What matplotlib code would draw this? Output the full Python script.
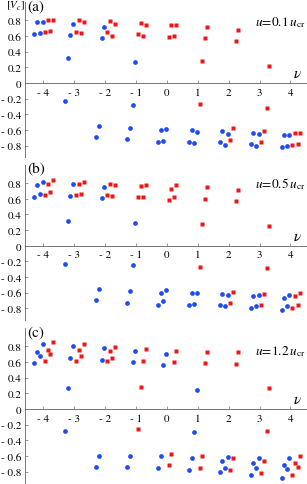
import numpy as np
import matplotlib
matplotlib.use("Agg")
import matplotlib.pyplot as plt

plt.rcParams['font.family'] = ['STIXGeneral', 'DejaVu Serif']
plt.rcParams['mathtext.fontset'] = 'stix'

# nu positions of the points (same in every panel)
nu_blue = [-4.29, -4.20, -4.11, -4.02, -3.28, -3.19, -3.12, -3.03,
           -2.29, -2.20, -2.11, -2.03, -1.28, -1.19, -1.11, -1.02,
           -0.28, -0.20, -0.11, -0.03, 0.72, 0.80, 0.89, 0.97,
           1.72, 1.80, 1.89, 1.97, 2.72, 2.80, 2.89, 2.97,
           3.72, 3.80, 3.89, 3.97]
nu_red = [-3.94, -3.85, -3.77, -3.69, -2.94, -2.85, -2.77, -2.69,
          -1.94, -1.85, -1.77, -1.69, -0.94, -0.85, -0.77, -0.69,
          0.06, 0.14, 0.23, 0.31, 1.06, 1.14, 1.23, 1.31,
          2.06, 2.14, 2.23, 2.31, 3.06, 3.14, 3.23, 3.31,
          4.06, 4.14, 4.23, 4.31]

# panel (a): u = 0.1 u_cr
blue_a = [0.63, 0.774, 0.638, 0.783, -0.226, 0.315, 0.609, 0.753,
          -0.685, -0.545, 0.579, 0.719, -0.719, -0.574, -0.281, 0.264,
          -0.749, -0.60, -0.74, -0.591, -0.749, -0.604, -0.77, -0.626,
          -0.749, -0.609, -0.796, -0.651, -0.783, -0.638, -0.80, -0.655,
          -0.813, -0.668, -0.804, -0.66]
red_a = [0.655, 0.80, 0.664, 0.809, 0.651, 0.80, 0.638, 0.779,
         0.647, 0.796, 0.604, 0.749, 0.621, 0.766, 0.60, 0.745,
         0.591, 0.736, 0.60, 0.745, -0.268, 0.277, 0.574, 0.715,
         -0.723, -0.579, 0.540, 0.681, -0.757, -0.617, -0.319, 0.221,
         -0.787, -0.643, -0.779, -0.634]

# panel (b): u = 0.5 u_cr
blue_b = [0.626, 0.77, 0.664, 0.813, -0.234, 0.311, 0.638, 0.783,
          -0.689, -0.549, 0.609, 0.753, -0.728, -0.579, -0.251, 0.294,
          -0.753, -0.609, -0.711, -0.566, -0.753, -0.609, -0.74, -0.60,
          -0.753, -0.617, -0.774, -0.626, -0.796, -0.643, -0.77, -0.626,
          -0.821, -0.672, -0.774, -0.630]
red_b = [0.651, 0.791, 0.689, 0.838, 0.647, 0.791, 0.66, 0.809,
         0.647, 0.791, 0.634, 0.779, 0.617, 0.762, 0.626, 0.774,
         0.587, 0.728, 0.626, 0.779, -0.268, 0.272, 0.60, 0.745,
         -0.736, -0.587, 0.570, 0.711, -0.762, -0.617, -0.289, 0.251,
         -0.796, -0.643, -0.753, -0.609]

# panel (c): u = 1.2 u_cr
blue_c = [0.585, 0.722, 0.679, 0.833, -0.282, 0.265, 0.654, 0.803,
          -0.744, -0.594, 0.62, 0.774, -0.744, -0.598, 0.594, 0.739,
          -0.752, -0.603, 0.560, 0.705, -0.778, -0.632, -0.299, 0.248,
          -0.808, -0.658, -0.756, -0.615, -0.842, -0.688, -0.752, -0.62,
          -0.876, -0.714, -0.765, -0.624]
red_c = [0.611, 0.748, 0.705, 0.859, 0.611, 0.748, 0.675, 0.829,
         0.607, 0.744, 0.645, 0.795, -0.261, 0.286, 0.615, 0.765,
         -0.718, -0.577, 0.594, 0.735, -0.752, -0.603, 0.585, 0.731,
         -0.782, -0.632, 0.581, 0.731, -0.816, -0.662, -0.282, 0.265,
         -0.842, -0.692, -0.735, -0.598]

panels = ['(a)', '(b)', '(c)']
u_labels = ['0.1', '0.5', '1.2']
x_ticks = [-4, -3, -2, -1, 0, 1, 2, 3, 4]
y_ticks = [-0.8, -0.6, -0.4, -0.2, 0, 0.2, 0.4, 0.6, 0.8]

W, H = 307, 485
fig = plt.figure(figsize=(W / 100, H / 100), dpi=100)

zero_px = [84.0, 246.7, 410.0]
scale = 78.3
ylo, yhi = -0.95, 1.03
left_px = 25.3
xlo = -4.58
xhi = xlo + (W - left_px) / 30.9

data = [(blue_a, red_a), (blue_b, red_b), (blue_c, red_c)]
u_y = [0.78, 0.80, 0.75]
label_y = [7, 170, 333]

for i, (blue, red) in enumerate(data):
    top = zero_px[i] - yhi * scale
    height = (yhi - ylo) * scale
    ax = fig.add_axes([left_px / W, 1 - (top + height) / H,
                       (W - left_px) / W, height / H])
    ax.plot(nu_blue, blue, 'o', color='#1f4cf2', ms=3.4, mec='none')
    ax.plot(nu_red, red, 's', color='#ee1515', ms=3.0, mec='none')
    ax.set_xlim(xlo, xhi)
    ax.set_ylim(ylo, yhi)
    ax.patch.set_visible(False)

    ax.spines['bottom'].set_position(('data', 0))
    ax.spines['top'].set_visible(False)
    ax.spines['right'].set_visible(False)
    for s in ['bottom', 'left']:
        ax.spines[s].set_color('#777777')
        ax.spines[s].set_linewidth(0.7)

    ax.set_xticks(x_ticks)
    ax.set_xticklabels([('- %d' % -t) if t < 0 else str(t) for t in x_ticks])
    ax.set_yticks(y_ticks)
    ax.set_yticklabels([('- %.1f' % -t) if t < 0 else ('0' if t == 0 else '%.1f' % t)
                        for t in y_ticks])
    ax.tick_params(direction='in', length=2.5, width=0.6, color='#888888',
                   labelsize=8, pad=3)

    ax.text(4.22, 0.04, r'$\nu$', fontsize=11, ha='center', va='bottom')
    ax.text(4.5, u_y[i], r'$u\!=\!%s\,u_{\rm cr}$' % u_labels[i],
            fontsize=9.5, ha='right', va='center')

    fig.text(36 / W, 1 - label_y[i] / H, panels[i], fontsize=11,
             ha='center', va='center')

fig.text(16 / W, 1 - 6 / H, r'$[\bar{V}_c]$', fontsize=8,
         ha='center', va='center')

fig.savefig('out.png', dpi=100)
